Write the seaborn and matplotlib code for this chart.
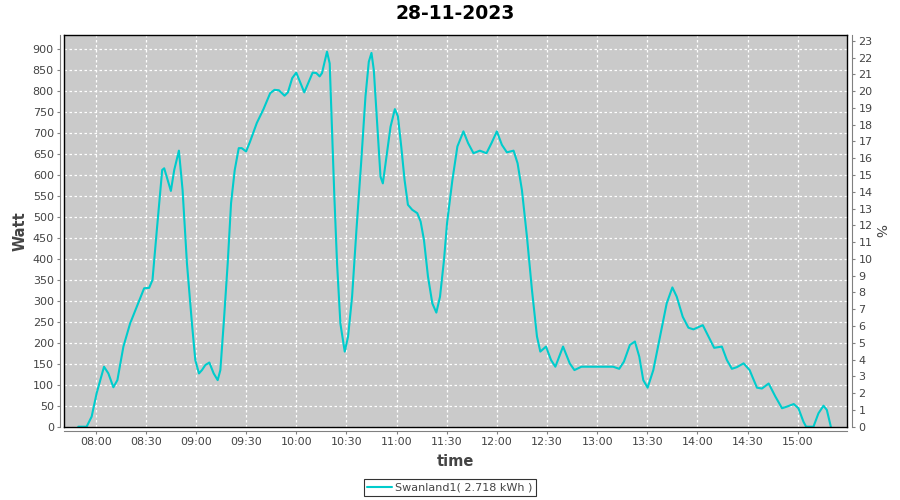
import pandas as pd
import matplotlib
matplotlib.use("Agg")
import matplotlib.pyplot as plt
import matplotlib.dates as mdates
import seaborn as sns

times = [
    "07:49:36", "07:54:36", "07:57:36", "08:00:36", "08:05:00", "08:07:36", "08:10:36", "08:13:00",
    "08:16:36", "08:20:36", "08:24:36", "08:29:00", "08:32:00", "08:34:00", "08:36:36", "08:39:48",
    "08:41:00", "08:45:00", "08:47:00", "08:49:48", "08:52:00", "08:54:36", "08:57:36", "08:59:36",
    "09:01:48", "09:03:36", "09:05:36", "09:08:00", "09:10:36", "09:13:00", "09:14:36", "09:16:36",
    "09:19:00", "09:21:00", "09:23:12", "09:25:36", "09:27:24", "09:30:00", "09:32:24", "09:36:24",
    "09:40:24", "09:44:24", "09:47:00", "09:49:36", "09:53:00", "09:55:00", "09:57:36", "10:00:00",
    "10:04:48", "10:09:48", "10:12:00", "10:14:00", "10:15:24", "10:18:24", "10:20:00", "10:21:24",
    "10:22:48", "10:24:24", "10:26:24", "10:29:00", "10:31:00", "10:33:24", "10:36:00", "10:38:48",
    "10:41:24", "10:43:24", "10:45:00", "10:46:24", "10:48:24", "10:50:24", "10:51:48", "10:54:00",
    "10:56:24", "10:59:00", "11:00:48", "11:02:48", "11:04:48", "11:06:48", "11:09:24", "11:12:24",
    "11:14:24", "11:16:24", "11:18:48", "11:21:24", "11:23:48", "11:26:00", "11:28:24", "11:30:12",
    "11:33:24", "11:36:24", "11:40:00", "11:42:48", "11:46:00", "11:49:48", "11:53:48", "11:56:48",
    "12:00:00", "12:03:00", "12:06:00", "12:10:00", "12:12:24", "12:15:00", "12:18:00", "12:21:00",
    "12:24:00", "12:26:00", "12:29:24", "12:32:24", "12:35:00", "12:39:36", "12:43:36", "12:46:24",
    "12:50:36", "12:57:36", "13:09:36", "13:13:12", "13:16:00", "13:19:36", "13:22:36", "13:25:12",
    "13:27:36", "13:30:12", "13:33:36", "13:37:36", "13:41:36", "13:45:00", "13:47:36", "13:51:12",
    "13:54:36", "13:57:36", "14:03:12", "14:06:36", "14:10:00", "14:14:36", "14:17:36", "14:20:36",
    "14:23:36", "14:27:36", "14:31:12", "14:35:36", "14:38:36", "14:42:36", "14:46:36", "14:50:36",
    "14:53:36", "14:57:36", "15:00:24", "15:03:24", "15:05:00", "15:09:24", "15:12:24", "15:15:24",
    "15:17:24", "15:19:48",
]
watt = [
    0, 0, 24, 80, 143, 127, 94, 111,
    191, 246, 286, 330, 331, 350, 469, 612,
    616, 562, 612, 658, 564, 390, 246, 159,
    127, 135, 147, 153, 127, 111, 135, 246,
    390, 533, 612, 664, 664, 656, 680, 724,
    757, 795, 803, 802, 789, 797, 831, 844,
    797, 844, 843, 835, 843, 894, 866, 707,
    548, 390, 246, 179, 215, 310, 469, 628,
    787, 870, 891, 850, 723, 596, 580, 644,
    715, 757, 740, 668, 588, 529, 517, 509,
    489, 445, 358, 294, 272, 310, 398, 485,
    588, 668, 704, 676, 652, 658, 652, 676,
    704, 672, 654, 658, 628, 564, 453, 326,
    215, 179, 191, 159, 143, 191, 151, 135,
    143, 143, 143, 138, 155, 195, 203, 167,
    111, 93, 135, 215, 294, 332, 310, 262,
    236, 232, 242, 215, 188, 191, 159, 138,
    142, 151, 135, 93, 91, 103, 72, 44,
    48, 54, 44, 12, 0, 0, 32, 50,
    40, 0,
]
day = "2023-11-28"
series_name = "Swanland1( 2.718 kWh )"
watt_ticks = list(range(0, 901, 50))
pct_ticks = list(range(0, 24))

df = pd.DataFrame({"time": pd.to_datetime([f"{day} {t}" for t in times]), "watt": watt})

sns.set_style("darkgrid", {
    "axes.facecolor": "#cacaca",
    "grid.color": "white",
    "grid.linestyle": (0, (2, 2)),
    "axes.edgecolor": "black",
})
plt.rcParams["font.family"] = ["DejaVu Sans"]

fig = plt.figure(figsize=(9, 5), dpi=100)
ax = fig.add_axes([0.0714, 0.1466, 0.8694, 0.7828])

sns.lineplot(data=df, x="time", y="watt", ax=ax, color="#00cccc", linewidth=1.5,
             label=series_name, legend=False)

top = 933
ax.set_ylim(0, top)
ax.set_xlim(pd.Timestamp(f"{day} 07:41:13"), pd.Timestamp(f"{day} 15:29:18"))
ax.set_yticks(watt_ticks)
ax.xaxis.set_major_locator(mdates.MinuteLocator(byminute=[0, 30]))
ax.xaxis.set_major_formatter(mdates.DateFormatter("%H:%M"))
ax.grid(True, linewidth=0.9)

ax.set_title("28-11-2023", fontsize=13.5, fontweight="bold", color="black", pad=12)
ax.set_xlabel("time", fontsize=10.5, fontweight="bold", color="#444444", labelpad=5)
ax.set_ylabel("Watt", fontsize=10.5, fontweight="bold", color="#444444", labelpad=4)
ax.tick_params(axis="both", labelsize=8, labelcolor="#444444", color="#808080",
               length=2.5, width=0.8, pad=2, left=True, bottom=True)

# frame + offset gray axis lines (jfreechart look)
for side in ["left", "bottom"]:
    ax.spines[side].set_position(("outward", 3))
    ax.spines[side].set_color("#808080")
for side in ["top", "right"]:
    ax.spines[side].set_color("black")
    ax.spines[side].set_linewidth(1)

ax2 = ax.twinx()
ax2.set_ylim(0, top / 40)
ax2.set_yticks(pct_ticks)
ax2.grid(False)
ax2.set_ylabel("%", fontsize=10, color="#444444", rotation=270, labelpad=10)
ax2.tick_params(axis="y", labelsize=8, labelcolor="#444444", color="#808080",
                length=2.5, width=0.8, pad=2, right=True)
ax2.spines["top"].set_visible(False)
ax2.spines["right"].set_position(("outward", 4))
ax2.spines["right"].set_color("#808080")
for side in ["left", "bottom"]:
    ax2.spines[side].set_color("black")
    ax2.spines[side].set_linewidth(1)

handles, labels = ax.get_legend_handles_labels()
leg = fig.legend(handles, labels, loc="center", bbox_to_anchor=(0.5, 0.025),
                 bbox_transform=fig.transFigure, frameon=True, fancybox=False,
                 fontsize=8, handlelength=2.2, borderpad=0.35, handletextpad=0.3)
leg.get_frame().set_edgecolor("black")
leg.get_frame().set_facecolor("white")
leg.get_frame().set_linewidth(0.8)
for t in leg.get_texts():
    t.set_color("#444444")

fig.savefig("out.png", dpi=100, facecolor="white")
